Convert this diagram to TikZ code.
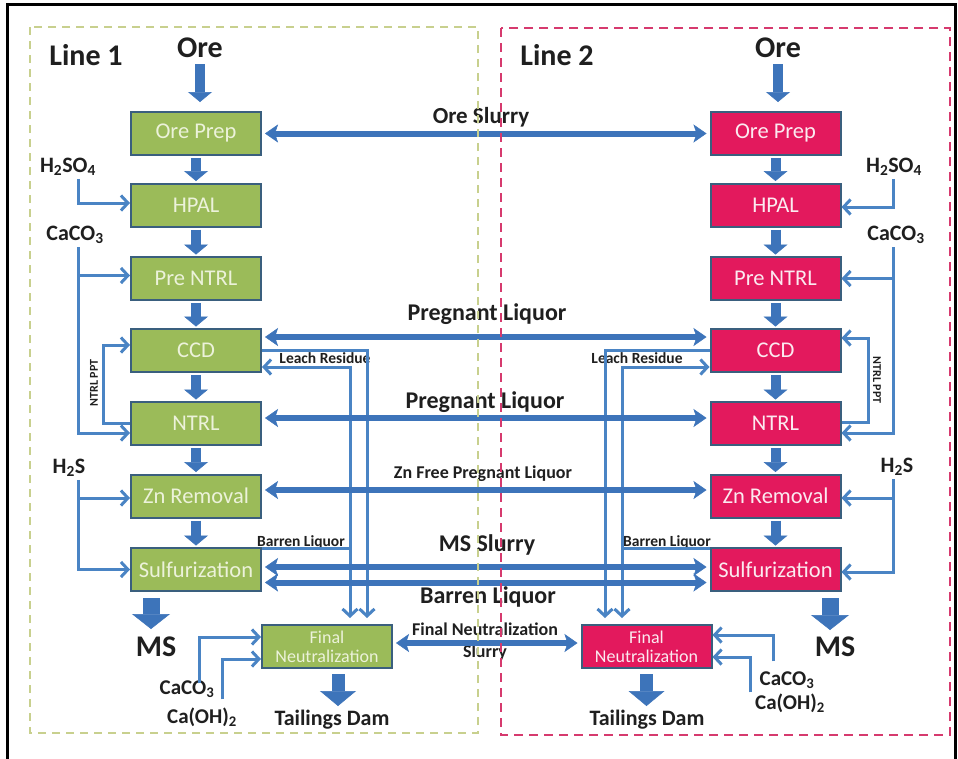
\documentclass[tikz,border=0pt]{standalone}
\usepackage{fontspec}
\setmainfont{Carlito}
\usetikzlibrary{arrows.meta}
\definecolor{ablue}{HTML}{3D74BA}
\definecolor{tblue}{HTML}{4A84C4}
\definecolor{gfill}{HTML}{9BBB59}
\definecolor{rfill}{HTML}{E3195D}
\definecolor{bline}{HTML}{3A5F7E}
\definecolor{gdash}{HTML}{C8D08E}
\definecolor{rdash}{HTML}{D63A6E}
\definecolor{gtext}{HTML}{ECF2DA}
\definecolor{rtext}{HTML}{FBEAF0}
\newcommand\fs[1]{\fontsize{#1}{#1}\selectfont}
\begin{document}
\begin{tikzpicture}[x=1pt,y=-1pt,
  gbox/.style={draw=bline, line width=2pt, fill=gfill, text=gtext, minimum width=130pt, minimum height=43pt, inner sep=0pt, font=\fs{22.5}},
  rbox/.style={gbox, fill=rfill, text=rtext},
  lbl/.style={inner sep=0pt, text=black!88, font=\bfseries\fs{#1}},
  blk/.style={draw=ablue, line width=10pt, -{Triangle[width=24pt,length=10pt,line width=0.5pt]}},
  bigblk/.style={draw=ablue, line width=17pt, -{Triangle[width=38pt,length=15pt,line width=0.5pt]}},
  tblk/.style={draw=ablue, line width=13pt, -{Triangle[width=36pt,length=15pt,line width=0.5pt]}},
  dbl/.style={draw=ablue, line width=6pt, {Stealth[width=18pt,length=13pt,inset=3pt,line width=0.5pt]}-{Stealth[width=18pt,length=13pt,inset=3pt,line width=0.5pt]}, shorten <=3pt, shorten >=3pt},
  feed/.style={draw=tblue, line width=3pt, -{Straight Barb[width=15pt,length=7pt]}},
  fline/.style={draw=tblue, line width=3pt}
]
\useasboundingbox (0,0) rectangle (958,758);
\fill[white] (0,0) rectangle (958,758);
\draw[line width=3pt] (7,770) -- (7,4) -- (955,4) -- (955,770);

% coordinates
\coordinate (lv) at (78,0);
\coordinate (lp) at (103,0);
\coordinate (rv) at (893,0);
\coordinate (rp) at (868,0);
\coordinate (lA) at (367,0);
\coordinate (lB) at (350,0);
\coordinate (rA) at (605,0);
\coordinate (rB) at (622,0);
\coordinate (lc1) at (199,0);
\coordinate (lc2) at (222,0);
\coordinate (rc1) at (773,0);
\coordinate (rc2) at (750,0);

% boxes
\node[gbox] (lPrep) at (196,133.5) {Ore Prep};
\node[gbox] (lHPAL) at (196,205) {HPAL};
\node[gbox] (lPre) at (196,278.5) {Pre NTRL};
\node[gbox] (lCCD) at (196,350.5) {CCD};
\node[gbox] (lNTRL) at (196,423.5) {NTRL};
\node[gbox] (lZn) at (196,496) {Zn Removal};
\node[gbox] (lSulf) at (196,569.5) {Sulfurization};
\node[gbox, font=\fs{18}, align=center] (lFin) at (327,646.5) {Final\\[1pt]Neutralization};

\node[rbox] (rPrep) at (775.5,133.5) {Ore Prep};
\node[rbox] (rHPAL) at (775.5,205) {HPAL};
\node[rbox] (rPre) at (775.5,278.5) {Pre NTRL};
\node[rbox] (rCCD) at (775.5,350.5) {CCD};
\node[rbox] (rNTRL) at (775.5,423.5) {NTRL};
\node[rbox] (rZn) at (775.5,496) {Zn Removal};
\node[rbox] (rSulf) at (775.5,569.5) {Sulfurization};
\node[rbox, font=\fs{18}, align=center] (rFin) at (646.5,646.5) {Final\\[1pt]Neutralization};

% labels
\node[lbl=30] (lLine) at (86,55) {Line 1};
\node[lbl=30] (rLine) at (557,55) {Line 2};
\node[lbl=30] (lOre) at (200,48) {Ore};
\node[lbl=30] (rOre) at (778,48) {Ore};
\node[lbl=22] (lH2SO4) at (68,167) {H\textsubscript{2}SO\textsubscript{4}};
\node[lbl=22] (rH2SO4) at (894,167) {H\textsubscript{2}SO\textsubscript{4}};
\node[lbl=22] (lCaCO3) at (75,235) {CaCO\textsubscript{3}};
\node[lbl=22] (rCaCO3) at (896,235) {CaCO\textsubscript{3}};
\node[lbl=22] (lH2S) at (69,468) {H\textsubscript{2}S};
\node[lbl=22] (rH2S) at (897,467) {H\textsubscript{2}S};
\node[lbl=12, rotate=90] (lPPT) at (94,383) {NTRL PPT};
\node[lbl=12, rotate=-90] (rPPT) at (877,380) {NTRL PPT};
\node[lbl=15.5] (lLeach) at (325,358) {Leach Residue};
\node[lbl=15.5] (rLeach) at (637,358) {Leach Residue};
\node[lbl=15.5] (lBarren) at (301,542) {Barren Liquor};
\node[lbl=15.5] (rBarren) at (667,542) {Barren Liquor};
\node[lbl=23] (tOre) at (481,117) {Ore Slurry};
\node[lbl=24] (tPreg1) at (487,314) {Pregnant Liquor};
\node[lbl=24] (tPreg2) at (485,402) {Pregnant Liquor};
\node[lbl=18] (tZnFree) at (483,474) {Zn Free Pregnant Liquor};
\node[lbl=24] (tMS) at (487,545) {MS Slurry};
\node[lbl=24] (tBarren) at (488,597) {Barren Liquor};
\node[lbl=18] (tFin1) at (485,629) {Final Neutralization};
\node[lbl=18] (tFin2) at (485,653) {Slurry};
\node[lbl=30] (lMS) at (156,647) {MS};
\node[lbl=30] (rMS) at (835,647) {MS};
\node[lbl=22] (lTail) at (332,720) {Tailings Dam};
\node[lbl=22] (rTail) at (647,720) {Tailings Dam};
\node[lbl=21] (lCa1) at (187,689) {CaCO\textsubscript{3}};
\node[lbl=21] (lCa2) at (202,717) {Ca(OH)\textsubscript{2}};
\node[lbl=21] (rCa1) at (787,680) {CaCO\textsubscript{3}};
\node[lbl=21] (rCa2) at (790,703) {Ca(OH)\textsubscript{2}};

% feed lines left
\draw[feed] ([yshift=-3pt]lH2SO4.south -| lv) |- ([yshift=2pt]lHPAL.west);
\draw[feed] ([yshift=-3pt]lCaCO3.south -| lv) |- ([yshift=-9.5pt]lNTRL.west);
\draw[feed] ([yshift=3pt]lPre.west -| lv) -- ([yshift=3pt]lPre.west);
\draw[feed] (lNTRL.west) -- (lNTRL.west -| lp) -- ([yshift=5.5pt]lCCD.west -| lp) -- ([yshift=5.5pt]lCCD.west);
\draw[feed] ([yshift=-3pt]lH2S.south -| lv) |- (lSulf.west);
\draw[feed] ([yshift=-2pt]lZn.west -| lv) -- ([yshift=-2pt]lZn.west);
% feed lines right
\draw[feed] ([yshift=-3pt]rH2SO4.south -| rv) |- ([yshift=-2pt]rHPAL.east);
\draw[feed] ([yshift=-3pt]rCaCO3.south -| rv) |- ([yshift=-9.5pt]rNTRL.east);
\draw[feed] (rPre.east -| rv) -- (rPre.east);
\draw[feed] ([yshift=1.5pt]rNTRL.east) -- ([yshift=1.5pt]rNTRL.east -| rp) -- ([yshift=12.5pt]rCCD.east -| rp) -- ([yshift=12.5pt]rCCD.east);
\draw[feed] ([yshift=-3pt]rH2S.south -| rv) |- ([yshift=-2.5pt]rSulf.east);
\draw[feed] ([yshift=-2pt]rZn.east -| rv) -- ([yshift=-2pt]rZn.east);

% leach residue / barren liquor left
\draw[feed] (lCCD.east) -- (lCCD.east -| lA) -- ([yshift=6pt]lFin.north -| lA);
\draw[feed] ([yshift=-1.5pt]lSulf.north east) -- ([yshift=-1.5pt]lSulf.north east -| lB) -- ([yshift=-16.5pt]lCCD.east -| lB) -- ([yshift=-16.5pt]lCCD.east);
\draw[feed] ([yshift=-1.5pt]lSulf.north east -| lB) -- ([yshift=6pt]lFin.north -| lB);
% right
\draw[feed] (rCCD.west) -- (rCCD.west -| rA) -- ([yshift=6pt]rFin.north -| rA);
\draw[feed] ([yshift=-1.5pt]rSulf.north west) -- ([yshift=-1.5pt]rSulf.north west -| rB) -- ([yshift=-16.5pt]rCCD.west -| rB) -- ([yshift=-16.5pt]rCCD.west);
\draw[feed] ([yshift=-1.5pt]rSulf.north west -| rB) -- ([yshift=6pt]rFin.north -| rB);

% bottom chemicals
\draw[feed] ([yshift=-3pt]lCa1.north -| lc1) |- ([yshift=9.5pt]lFin.west);
\draw[feed] ([yshift=8pt]lCa2.north -| lc2) |- ([yshift=-12.5pt]lFin.west);
\draw[feed] ([yshift=10pt]rCa1.north -| rc1) |- ([yshift=11.5pt]rFin.east);
\draw[feed] ([yshift=1pt]rCa2.north -| rc2) |- ([yshift=-10.5pt]rFin.east);

% double arrows
\draw[dbl] (lPrep.east) -- (rPrep.west);
\draw[dbl] ([yshift=13.5pt]lCCD.east) -- ([yshift=13.5pt]rCCD.west);
\draw[dbl] ([yshift=5.5pt]lNTRL.east) -- ([yshift=5.5pt]rNTRL.west);
\draw[dbl] ([yshift=6pt]lZn.east) -- ([yshift=6pt]rZn.west);
\draw[dbl] ([yshift=2.5pt]lSulf.east) -- ([yshift=2.5pt]rSulf.west);
\draw[dbl] ([yshift=-13pt]lSulf.east) -- ([yshift=-13pt]rSulf.west);
\draw[dbl] ([yshift=3.5pt]lFin.east) -- ([yshift=3.5pt]rFin.west);

% block arrows
\draw[blk, shorten <=6pt, shorten >=9pt] (lOre.south) -- (lOre.south |- lPrep.north);
\draw[blk, shorten <=6pt, shorten >=9pt] (rOre.south) -- (rOre.south |- rPrep.north);
\foreach \s in {l,r}{
  \draw[blk, shorten <=2pt, shorten >=1.5pt] (\s Prep.south) -- (\s HPAL.north);
  \draw[blk, shorten <=2pt, shorten >=1.5pt] (\s HPAL.south) -- (\s Pre.north);
  \draw[blk, shorten <=2pt, shorten >=1.5pt] (\s Pre.south) -- (\s CCD.north);
  \draw[blk, shorten <=2pt, shorten >=1.5pt] (\s CCD.south) -- (\s NTRL.north);
  \draw[blk, shorten <=2pt, shorten >=1.5pt] (\s NTRL.south) -- (\s Zn.north);
  \draw[blk, shorten <=2pt, shorten >=1.5pt] (\s Zn.south) -- (\s Sulf.north);
}
\draw[bigblk] ([xshift=-45pt,yshift=-6pt]lSulf.south) -- ++(0,31);
\draw[bigblk] ([xshift=54.5pt,yshift=-6pt]rSulf.south) -- ++(0,32);
\draw[tblk] ([xshift=11pt,yshift=-5pt]lFin.south) -- ++(0,32);
\draw[tblk] ([yshift=-5pt]rFin.south) -- ++(0,32);

% dashed line frames
\draw[gdash, line width=2pt, dash pattern=on 8pt off 6pt] (30,27) rectangle (478,733);
\draw[rdash, line width=2.5pt, dash pattern=on 9pt off 6pt] (501,28) rectangle (950,735);
\end{tikzpicture}
\end{document}
